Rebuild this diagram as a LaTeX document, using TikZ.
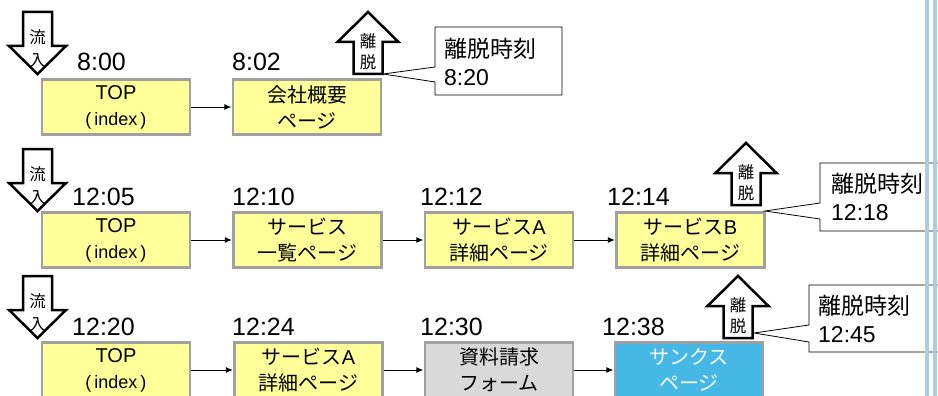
\documentclass[tikz,border=0pt]{standalone}
\usepackage{fontspec}
\setmainfont{Liberation Sans}
\newfontfamily\jp{Noto Sans CJK JP}
\usetikzlibrary{arrows.meta}
\definecolor{boxgray}{HTML}{A0A0A0}
\definecolor{boxyellow}{HTML}{FFFF99}
\definecolor{formgray}{HTML}{D9D9D9}
\definecolor{thanksblue}{HTML}{45B8E6}
\definecolor{stripeblue}{HTML}{A9CDE2}
\tikzset{
  pagebox/.style={draw=boxgray, line width=2.4pt, fill=boxyellow, minimum width=148pt,
    minimum height=55pt, inner sep=0pt, align=center, font=\fontsize{20}{26}\selectfont},
  timelabel/.style={anchor=base west, inner sep=0pt, font=\fontsize{25}{30}\selectfont},
  flow/.style={line width=0.9pt, -{Latex[length=7pt,width=6pt]}, shorten >=0.5pt},
  arrowline/.style={draw=black, line width=2.5pt, fill=white, line join=miter},
  arrowtext/.style={inner sep=0pt, font=\jp\fontsize{16.5}{16.5}\selectfont},
  callout/.style={draw=black, line width=0.8pt, fill=white},
  callouttext/.style={anchor=west, inner sep=0pt, align=left, font=\fontsize{23}{28}\selectfont},
  inflow/.pic={
    \draw[arrowline] (-14.5,0) -- (14.5,0) -- (14.5,34) -- (28.5,34) -- (0,62)
      -- (-28.5,34) -- (-14.5,34) -- cycle;
    \node[arrowtext] (-a) at (0,25) {流};
    \node[arrowtext] (-b) at (0,49) {入};
  },
  exitarrow/.pic={
    \draw[arrowline] (0,0) -- (30.5,30) -- (14.5,30) -- (14.5,62) -- (-14.5,62)
      -- (-14.5,30) -- (-30.5,30) -- cycle;
    \node[arrowtext] (-a) at (0,29) {離};
    \node[arrowtext] (-b) at (0,50) {脱};
  }
}
\begin{document}
\begin{tikzpicture}[x=1pt,y=-1pt]
\useasboundingbox (0,0) rectangle (938,396);
\clip (0,0) rectangle (938,396);

% ---------- Row 1 ----------
\pic (in1) at (37.5,12) {inflow};
\node[timelabel] (t11) at (77,71) {8:00};
\node[timelabel] (t12) at (232,71) {8:02};
\node[pagebox] (b11) at (116,107) {TOP\\{\fontsize{18}{26}\selectfont(\,index\,)}};
\node[pagebox] (b12) at (307,107) {{\jp 会社概要}\\{\jp ページ}};
\draw[flow] (b11) -- (b12);
\pic (ex1) at (368,12) {exitarrow};
\draw[callout] (435,27) -- (562,27) -- (562,95) -- (435,95) -- (435,82) -- (383,74) -- (435,67) -- cycle;
\node[callouttext] (c1) at (444,62) {{\jp 離脱時刻}\\8:20};

% ---------- Row 2 ----------
\pic (in2) at (37.5,149) {inflow};
\node[timelabel] (t21) at (72,205) {12:05};
\node[timelabel] (t22) at (232,205) {12:10};
\node[timelabel] (t23) at (420,205) {12:12};
\node[timelabel] (t24) at (607,205) {12:14};
\node[pagebox] (b21) at (116,240) {TOP\\{\fontsize{18}{26}\selectfont(\,index\,)}};
\node[pagebox] (b22) at (307.5,240) {{\jp サービス}\\{\jp 一覧ページ}};
\node[pagebox] (b23) at (499,240) {{\jp サービス}A\\{\jp 詳細ページ}};
\node[pagebox] (b24) at (690.5,240) {{\jp サービス}B\\{\jp 詳細ページ}};
\draw[flow] (b21) -- (b22);
\draw[flow] (b22) -- (b23);
\draw[flow] (b23) -- (b24);
\pic (ex2) at (746,143) {exitarrow};
\draw[callout] (820,163) -- (950,163) -- (950,231) -- (820,231) -- (820,219) -- (765,211) -- (820,203) -- cycle;
\node[callouttext] (c2) at (831,197) {{\jp 離脱時刻}\\12:18};

% ---------- Row 3 ----------
\pic (in3) at (37.5,276) {inflow};
\node[timelabel] (t31) at (72,335) {12:20};
\node[timelabel] (t32) at (232,335) {12:24};
\node[timelabel] (t33) at (420,335) {12:30};
\node[timelabel] (t34) at (602,335) {12:38};
\node[pagebox] (b31) at (116,370) {TOP\\{\fontsize{18}{26}\selectfont(\,index\,)}};
\node[pagebox] (b32) at (308.5,370) {{\jp サービス}A\\{\jp 詳細ページ}};
\node[pagebox, fill=formgray] (b33) at (499,370) {{\jp 資料請求}\\{\jp フォーム}};
\node[pagebox, fill=thanksblue, text=white] (b34) at (689,370) {{\jp サンクス}\\{\jp ページ}};
\draw[flow] (b31) -- (b32);
\draw[flow] (b32) -- (b33);
\draw[flow] (b33) -- (b34);
\pic (ex3) at (738,276) {exitarrow};
\draw[callout] (809,285) -- (950,285) -- (950,352) -- (809,352) -- (809,342) -- (754,333) -- (809,325) -- cycle;
\node[callouttext] (c3) at (818,319) {{\jp 離脱時刻}\\12:45};

% ---------- right stripes ----------
\fill[stripeblue] (925,0) rectangle (928.5,396);
\fill[stripeblue] (933,0) rectangle (937,396);
\end{tikzpicture}
\end{document}
